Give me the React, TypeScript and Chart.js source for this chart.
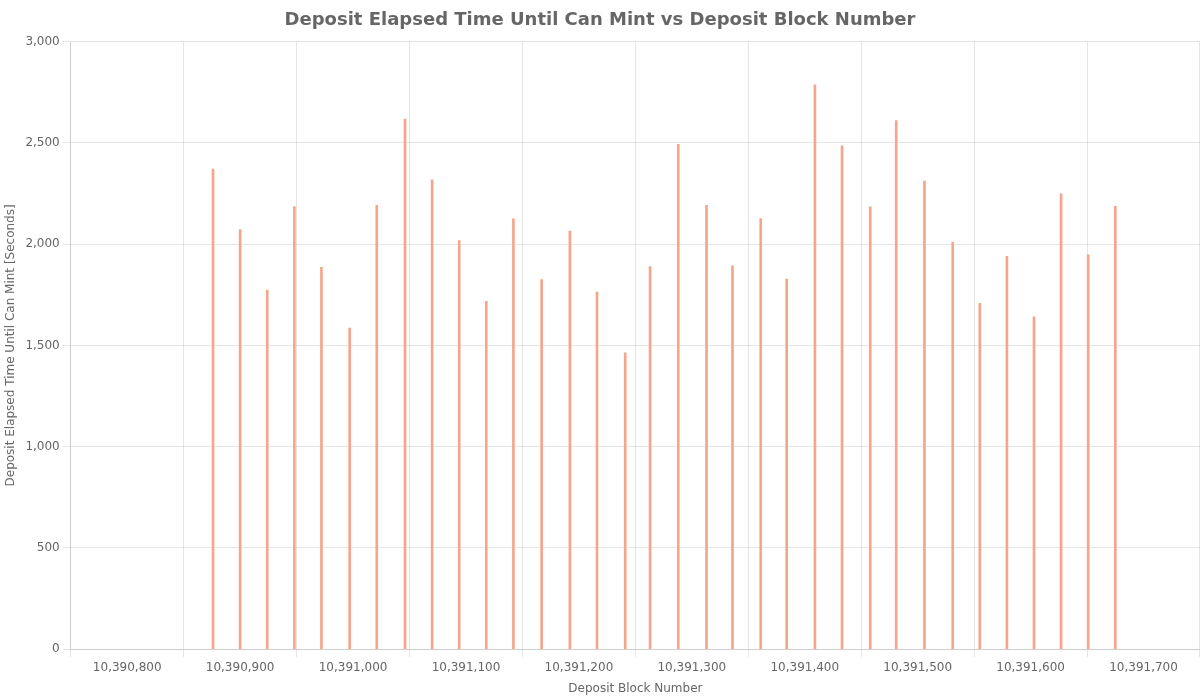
import React, { useEffect, useRef } from "react";
import { Chart, registerables } from "chart.js";

Chart.register(...registerables);

const blockNumbers: number[] = [
  10390876, 10390900, 10390924, 10390948, 10390972, 10390997, 10391021, 10391046,
  10391070, 10391094, 10391118, 10391142, 10391167, 10391192, 10391216, 10391241,
  10391263, 10391288, 10391313, 10391336, 10391361, 10391384, 10391409, 10391433,
  10391458, 10391481, 10391506, 10391531, 10391555, 10391579, 10391603, 10391627,
  10391651, 10391675,
];

const elapsedSeconds: number[] = [
  2371, 2072, 1773, 2185, 1886, 1586, 2192, 2618,
  2317, 2017, 1718, 2125, 1825, 2064, 1763, 1463,
  1889, 2493, 2192, 1893, 2126, 1827, 2786, 2485,
  2184, 2610, 2311, 2010, 1708, 1940, 1641, 2248,
  1947, 2187,
];

const xTickValues: number[] = [
  10390800, 10390900, 10391000, 10391100, 10391200, 10391300, 10391400, 10391500,
  10391600, 10391700,
];

const X_MIN = 10390750;
const X_MAX = 10391750;

export default function App() {
  const canvasRef = useRef<HTMLCanvasElement | null>(null);

  useEffect(() => {
    document.body.style.margin = "0";
    const canvas = canvasRef.current;
    if (!canvas) return;
    Chart.defaults.font.family = "'DejaVu Sans', sans-serif";
    Chart.defaults.color = "#666";
    const chart = new Chart(canvas, {
      type: "bar",
      data: {
        datasets: [
          {
            label: "Elapsed",
            data: blockNumbers.map((b, i) => ({ x: b, y: elapsedSeconds[i] })),
            backgroundColor: "#F6A58B",
            borderWidth: 0,
            barThickness: 2,
          },
        ],
      },
      options: {
        animation: false,
        responsive: true,
        maintainAspectRatio: false,
        plugins: {
          legend: { display: false },
          tooltip: { enabled: false },
          title: {
            display: true,
            text: "Deposit Elapsed Time Until Can Mint vs Deposit Block Number",
            font: { size: 18, weight: "bold" },
            color: "#666",
          },
        },
        scales: {
          x: {
            type: "linear",
            min: X_MIN,
            max: X_MAX,
            offset: false,
            grid: { offset: true },
            afterBuildTicks: (axis: any) => {
              axis.ticks = xTickValues.map((v) => ({ value: v }));
            },
            ticks: {
              autoSkip: false,
              maxRotation: 0,
              callback: (v: any) => Number(v).toLocaleString("en-US"),
            },
            title: { display: true, text: "Deposit Block Number" },
          },
          y: {
            type: "linear",
            min: 0,
            max: 3000,
            ticks: {
              stepSize: 500,
              callback: (v: any) => Number(v).toLocaleString("en-US"),
            },
            title: { display: true, text: "Deposit Elapsed Time Until Can Mint [Seconds]" },
          },
        },
      },
    });
    return () => chart.destroy();
  }, []);

  return (
    <div style={{ position: "absolute", left: 0, top: 0, width: 1200, height: 700 }}>
      <canvas ref={canvasRef} />
    </div>
  );
}
